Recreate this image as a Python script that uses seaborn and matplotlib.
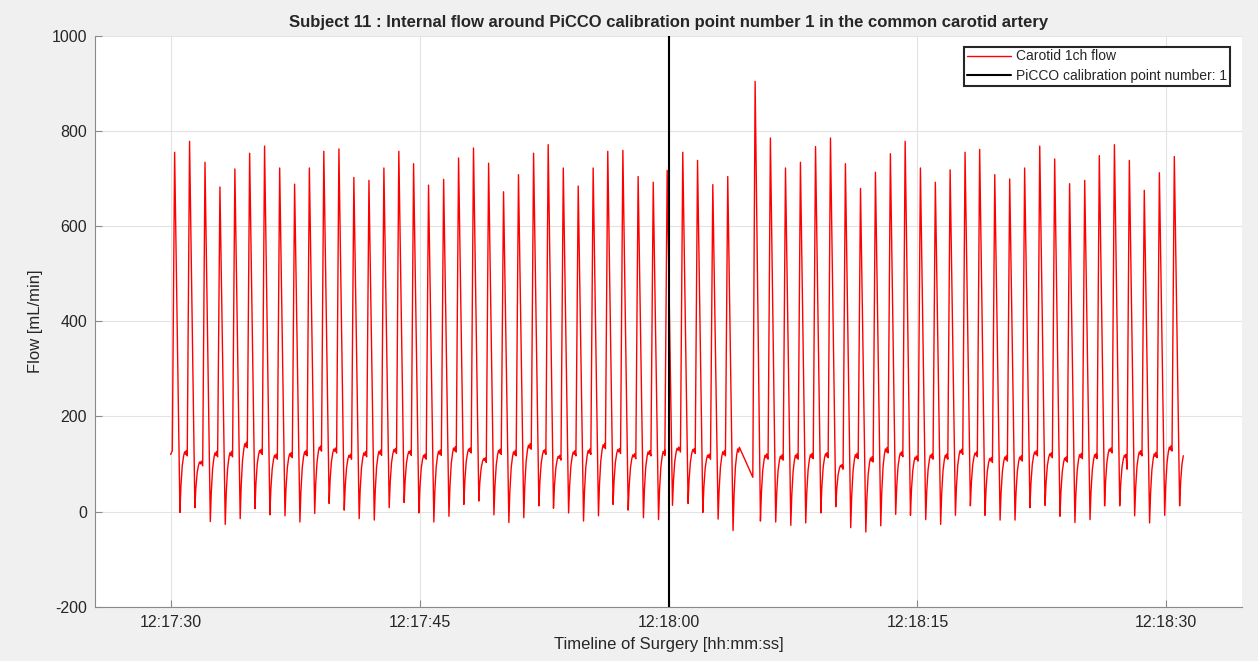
import datetime as dt

import matplotlib
matplotlib.use("Agg")
import matplotlib.pyplot as plt
from matplotlib.ticker import FuncFormatter
import pandas as pd
import seaborn as sns

# recording window around the PiCCO calibration (times in s after 12:17:30)
start_clock = "12:17:30"
calib_clock = "12:18:00"
calib_offset = 30.0
start_level = 120
signal_end = 61.02

# per-beat values
peak_t = [0.24, 1.14, 2.07, 2.97, 3.87, 4.76, 5.66, 6.57, 7.47, 8.36,
          9.23, 10.14, 11.04, 11.95, 12.85, 13.75, 14.64, 15.54, 16.45, 17.35,
          18.25, 19.16, 20.06, 20.96, 21.87, 22.75, 23.66, 24.56, 25.46, 26.34,
          27.25, 28.17, 29.08, 29.92, 30.86, 31.75, 32.67, 33.57, 35.22, 36.14,
          37.05, 37.95, 38.86, 39.76, 40.66, 41.57, 42.47, 43.37, 44.26, 45.18,
          46.08, 46.97, 47.87, 48.75, 49.66, 50.56, 51.46, 52.37, 53.27, 54.17,
          55.08, 55.96, 56.87, 57.77, 58.67, 59.58, 60.48]
peak_val = [755, 778, 734, 682, 720, 753, 768, 722, 688, 722,
            757, 762, 702, 696, 722, 757, 731, 686, 698, 743,
            764, 732, 672, 708, 753, 771, 722, 684, 722, 757,
            759, 704, 692, 717, 755, 738, 687, 704, 904, 785,
            722, 734, 767, 785, 731, 679, 713, 752, 778, 722,
            692, 718, 755, 761, 708, 699, 722, 768, 741, 689,
            696, 748, 771, 738, 675, 712, 746]
trough_val = [-2, 8, -21, -27, -15, 6, -7, -9, -22, -4,
              17, 3, -15, -18, 8, 19, -3, -22, -10, 15,
              22, -7, -23, -13, 12, 7, -3, -20, -9, 15,
              3, -13, -17, 13, 17, -2, -16, -40, -20, -22,
              -29, -24, -3, 10, -34, -43, -30, -6, -8, -17,
              -27, -8, 12, -8, -18, -18, 8, 13, -10, -23,
              -17, 12, 12, -9, -24, -8, 12]
plateau_val = [124, 103, 122, 122, 141, 127, 117, 120, 124, 134,
               130, 117, 122, 125, 129, 125, 117, 125, 132, 130,
               110, 127, 124, 138, 127, 115, 124, 127, 139, 129,
               118, 124, 125, 132, 129, 117, 124, 130, 117, 115,
               117, 118, 120, 96, 118, 111, 130, 122, 113, 117,
               117, 127, 122, 110, 113, 113, 124, 120, 111, 118,
               118, 130, 117, 124, 120, 134, 124]
# flow just before the upstroke where it differs from the plateau
foot_val = {1: 128, 39: 72, 64: 89}

# beat shape (s relative to peak / trough, fraction trough->plateau)
upstroke = 0.14
fall = 0.32
rec_dt = [0.06, 0.14, 0.22, 0.28, 0.34, 0.38]
rec_frac = [0.44, 0.78, 0.94, 1.01, 0.97, 1.03]

t_pts = [0.0]
v_pts = [start_level]
for i in range(len(peak_t)):
    tp = peak_t[i]
    prev = plateau_val[i - 1] if i > 0 else start_level
    t_pts.append(tp - upstroke)
    v_pts.append(foot_val.get(i + 1, prev - 7))
    t_pts.append(tp)
    v_pts.append(peak_val[i])
    tt = tp + fall
    t_pts.append(tt)
    v_pts.append(trough_val[i])
    for d, f in zip(rec_dt, rec_frac):
        if tt + d > signal_end:
            break
        t_pts.append(tt + d)
        v_pts.append(trough_val[i] + f * (plateau_val[i] - trough_val[i]))

df = pd.DataFrame({"sec": [t - calib_offset for t in t_pts], "flow": v_pts})

sns.set_style("whitegrid")
plt.rcParams["font.family"] = ["Liberation Sans", "DejaVu Sans"]
plt.rcParams["axes.unicode_minus"] = False

fig = plt.figure(figsize=(12.58, 6.61), dpi=100, facecolor="#f0f0f0")
ax = fig.add_axes([95.3 / 1258, 1 - 606.7 / 661, (1241.7 - 95.3) / 1258, (606.7 - 35.7) / 661])
ax.set_facecolor("white")

sns.lineplot(data=df, x="sec", y="flow", sort=False, estimator=None,
             color="red", linewidth=1.0, label="Carotid 1ch flow", ax=ax)
ax.axvline(0, color="black", linewidth=1.5, label="PiCCO calibration point number: 1")

ax.set_xlim(-34.54, 34.54)
ax.set_ylim(-200, 1000)
ax.set_xticks([-30, -15, 0, 15, 30])
ax.set_yticks(range(-200, 1001, 200))

base = dt.datetime.strptime(calib_clock, "%H:%M:%S")
ax.xaxis.set_major_formatter(FuncFormatter(
    lambda s, pos: (base + dt.timedelta(seconds=float(s))).strftime("%H:%M:%S")))

ax.grid(True, color="#e3e3e3", linewidth=0.8)
for side in ["top", "right"]:
    ax.spines[side].set_visible(False)
for side in ["left", "bottom"]:
    ax.spines[side].set_color("#8a8a8a")
    ax.spines[side].set_linewidth(0.8)
ax.tick_params(direction="in", length=5, width=0.8, color="#8a8a8a",
               labelsize=11.5, labelcolor="#262626", pad=6, left=True, bottom=True)

ax.set_title("Subject 11 : Internal flow around PiCCO calibration point number 1 in the common carotid artery",
             fontsize=12, fontweight="bold", pad=6)
ax.set_xlabel("Timeline of Surgery [hh:mm:ss]", fontsize=12, color="#262626", labelpad=5)
ax.set_ylabel("Flow [mL/min]", fontsize=12, color="#262626", labelpad=6)

leg = ax.legend(loc="upper right", bbox_to_anchor=(0.9898, 0.9807), borderaxespad=0,
                fontsize=10, handlelength=3.2, handletextpad=0.35, borderpad=0.2,
                labelspacing=0.38, fancybox=False, framealpha=1, edgecolor="#262626")
leg.get_frame().set_linewidth(1.5)

fig.savefig("out.png", dpi=100, facecolor=fig.get_facecolor())
